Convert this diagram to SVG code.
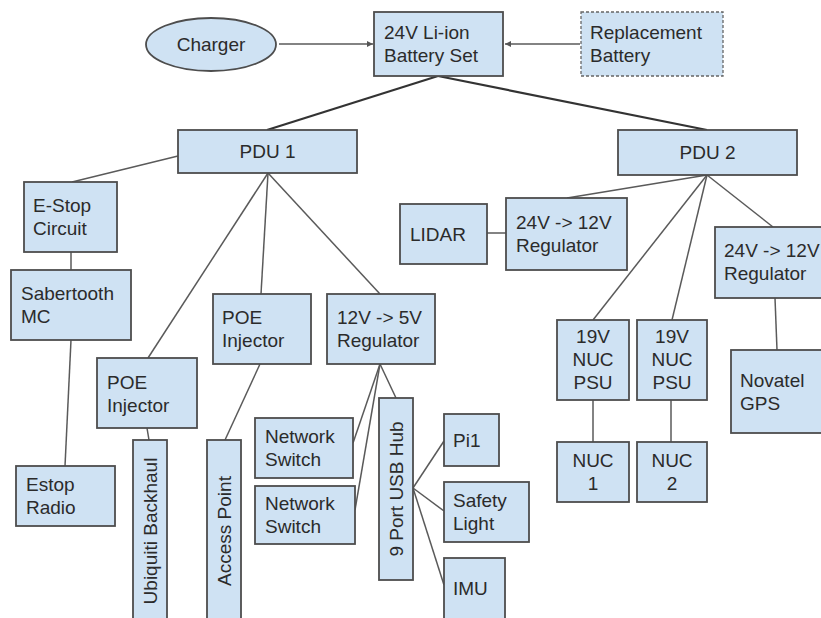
<svg xmlns="http://www.w3.org/2000/svg" width="821" height="618" viewBox="0 0 821 618">
<defs>
<style>
.box{fill:#cfe2f3;stroke:#4d4d4d;stroke-width:1.8}
.dash{fill:#cfe2f3;stroke:#666;stroke-width:1.3;stroke-dasharray:3 2}
.t{font-family:"Liberation Sans",Arial,sans-serif;font-size:19px;fill:#2b2b2b}
.c{text-anchor:middle}
.ln{stroke:#5a5a5a;stroke-width:1.5;fill:none}
.thick{stroke:#333;stroke-width:2.2;fill:none}
</style>
<marker id="arr" viewBox="0 0 10 10" refX="10" refY="5" markerWidth="6" markerHeight="6" markerUnits="userSpaceOnUse" orient="auto">
<path d="M0,0 L10,5 L0,10 z" fill="#555"/>
</marker>
</defs>
<rect width="821" height="618" fill="#fff"/>
<g id="connectors">
<line class="ln" x1="279" y1="44" x2="373" y2="44" marker-end="url(#arr)"/>
<line class="ln" x1="580" y1="44" x2="505" y2="44" marker-end="url(#arr)"/>
<line class="thick" x1="438" y1="76" x2="267" y2="130"/>
<line class="thick" x1="438" y1="76" x2="707" y2="130"/>
<line class="ln" x1="178" y1="156" x2="72" y2="182"/>
<line class="ln" x1="71" y1="252" x2="71" y2="270"/>
<line class="ln" x1="71" y1="340" x2="65" y2="466"/>
<line class="ln" x1="268" y1="173" x2="148" y2="358"/>
<line class="ln" x1="268" y1="173" x2="261" y2="294"/>
<line class="ln" x1="268" y1="173" x2="380" y2="294"/>
<line class="ln" x1="147" y1="428" x2="149" y2="440"/>
<line class="ln" x1="260" y1="364" x2="225" y2="440"/>
<line class="ln" x1="380" y1="364" x2="353" y2="443"/>
<line class="ln" x1="380" y1="364" x2="355" y2="510"/>
<line class="ln" x1="380" y1="364" x2="396" y2="398"/>
<line class="ln" x1="413" y1="488" x2="444" y2="441"/>
<line class="ln" x1="413" y1="488" x2="444" y2="511"/>
<line class="ln" x1="413" y1="488" x2="444" y2="585"/>
<line class="ln" x1="707" y1="175" x2="567" y2="198"/>
<line class="ln" x1="707" y1="175" x2="593" y2="320"/>
<line class="ln" x1="707" y1="175" x2="672" y2="320"/>
<line class="ln" x1="707" y1="175" x2="773" y2="227"/>
<line class="ln" x1="487" y1="233" x2="506" y2="233"/>
<line class="ln" x1="593" y1="400" x2="593" y2="442"/>
<line class="ln" x1="671" y1="400" x2="671" y2="442"/>
<line class="ln" x1="775" y1="298" x2="777" y2="350"/>
</g>
<g id="charger">
<ellipse class="box" cx="211" cy="44.5" rx="65" ry="26.5"/>
<text class="t c" x="211" y="51">Charger</text>
</g>
<g id="battery">
<rect class="box" x="374" y="12" width="129" height="64"/>
<text class="t" x="384" y="39">24V Li-ion</text>
<text class="t" x="384" y="62">Battery Set</text>
</g>
<g id="replacement">
<rect class="dash" x="581" y="12" width="142" height="64"/>
<text class="t" x="590" y="39">Replacement</text>
<text class="t" x="590" y="62">Battery</text>
</g>
<g id="pdu1">
<rect class="box" x="178" y="130" width="179" height="43"/>
<text class="t c" x="267.5" y="158">PDU 1</text>
</g>
<g id="pdu2">
<rect class="box" x="618" y="130" width="179" height="45"/>
<text class="t c" x="707.5" y="159">PDU 2</text>
</g>
<g id="estop-circuit">
<rect class="box" x="24" y="182" width="93" height="70"/>
<text class="t" x="33" y="212">E-Stop</text>
<text class="t" x="33" y="235">Circuit</text>
</g>
<g id="sabertooth">
<rect class="box" x="11" y="270" width="120" height="70"/>
<text class="t" x="21" y="300">Sabertooth</text>
<text class="t" x="21" y="323">MC</text>
</g>
<g id="estop-radio">
<rect class="box" x="16" y="466" width="99" height="60"/>
<text class="t" x="26" y="491">Estop</text>
<text class="t" x="26" y="514">Radio</text>
</g>
<g id="poe-left">
<rect class="box" x="97" y="358" width="100" height="70"/>
<text class="t" x="107" y="389">POE</text>
<text class="t" x="107" y="412">Injector</text>
</g>
<g id="ubiquiti">
<rect class="box" x="133" y="440" width="34" height="182"/>
<text class="t c" transform="translate(150,531) rotate(-90)" x="0" y="7">Ubiquiti Backhaul</text>
</g>
<g id="poe-mid">
<rect class="box" x="213" y="294" width="98" height="70"/>
<text class="t" x="222" y="324">POE</text>
<text class="t" x="222" y="347">Injector</text>
</g>
<g id="access-point">
<rect class="box" x="207" y="440" width="34" height="182"/>
<text class="t c" transform="translate(224,531) rotate(-90)" x="0" y="7">Access Point</text>
</g>
<g id="reg-5v">
<rect class="box" x="327" y="294" width="108" height="70"/>
<text class="t" x="337" y="324">12V -&gt; 5V</text>
<text class="t" x="337" y="347">Regulator</text>
</g>
<g id="switch1">
<rect class="box" x="255" y="418" width="98" height="60"/>
<text class="t" x="265" y="443">Network</text>
<text class="t" x="265" y="466">Switch</text>
</g>
<g id="switch2">
<rect class="box" x="255" y="486" width="100" height="58"/>
<text class="t" x="265" y="510">Network</text>
<text class="t" x="265" y="533">Switch</text>
</g>
<g id="usb-hub">
<rect class="box" x="379" y="398" width="34" height="182"/>
<text class="t c" transform="translate(396,489) rotate(-90)" x="0" y="7">9 Port USB Hub</text>
</g>
<g id="pi1">
<rect class="box" x="444" y="414" width="55" height="52"/>
<text class="t" x="453" y="447">Pi1</text>
</g>
<g id="safety-light">
<rect class="box" x="444" y="482" width="85" height="60"/>
<text class="t" x="453" y="507">Safety</text>
<text class="t" x="453" y="530">Light</text>
</g>
<g id="imu">
<rect class="box" x="444" y="558" width="61" height="62"/>
<text class="t" x="453" y="595">IMU</text>
</g>
<g id="lidar">
<rect class="box" x="400" y="204" width="87" height="60"/>
<text class="t" x="410" y="241">LIDAR</text>
</g>
<g id="reg-12v-a">
<rect class="box" x="506" y="198" width="121" height="72"/>
<text class="t" x="516" y="229">24V -&gt; 12V</text>
<text class="t" x="516" y="252">Regulator</text>
</g>
<g id="psu1">
<rect class="box" x="557" y="320" width="72" height="80"/>
<text class="t c" x="593" y="343">19V</text>
<text class="t c" x="593" y="366">NUC</text>
<text class="t c" x="593" y="389">PSU</text>
</g>
<g id="psu2">
<rect class="box" x="637" y="320" width="70" height="80"/>
<text class="t c" x="672" y="343">19V</text>
<text class="t c" x="672" y="366">NUC</text>
<text class="t c" x="672" y="389">PSU</text>
</g>
<g id="nuc1">
<rect class="box" x="557" y="442" width="72" height="60"/>
<text class="t c" x="593" y="467">NUC</text>
<text class="t c" x="593" y="490">1</text>
</g>
<g id="nuc2">
<rect class="box" x="637" y="442" width="70" height="60"/>
<text class="t c" x="672" y="467">NUC</text>
<text class="t c" x="672" y="490">2</text>
</g>
<g id="reg-12v-b">
<rect class="box" x="715" y="227" width="120" height="71"/>
<text class="t" x="724" y="257">24V -&gt; 12V</text>
<text class="t" x="724" y="280">Regulator</text>
</g>
<g id="novatel">
<rect class="box" x="731" y="350" width="100" height="83"/>
<text class="t" x="740" y="387">Novatel</text>
<text class="t" x="740" y="410">GPS</text>
</g>
</svg>
